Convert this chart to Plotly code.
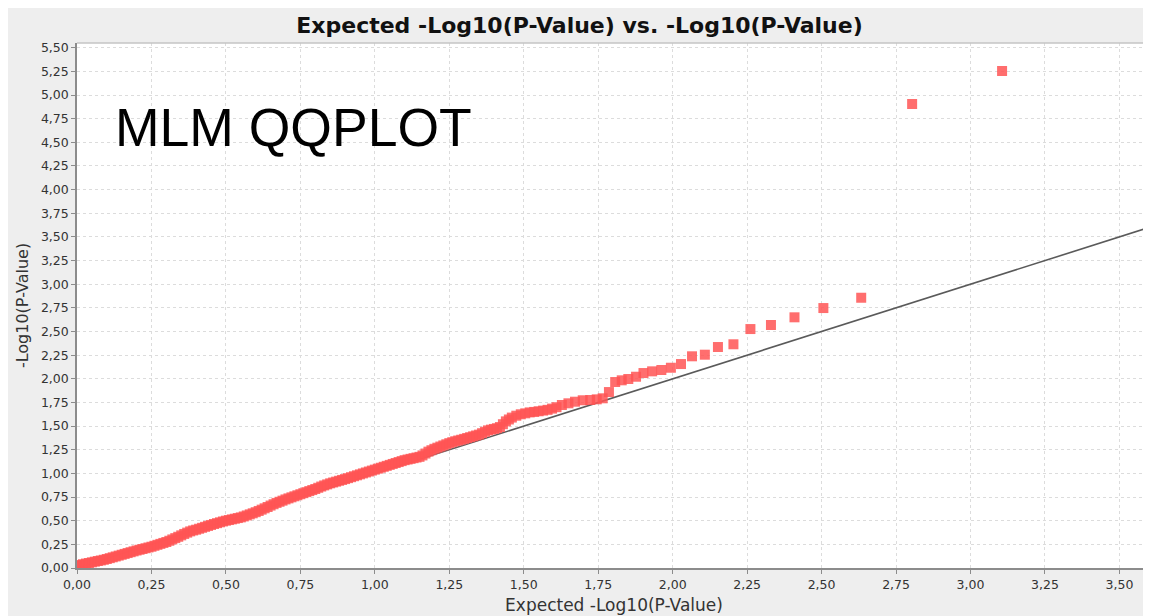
import plotly.graph_objects as go

# ---- data ----
# dense part of the curve (expected, observed)
dense_expected = [
    0.00, 0.01, 0.02, 0.03, 0.04, 0.05, 0.06, 0.07, 0.08, 0.09,
    0.10, 0.11, 0.12, 0.13, 0.14, 0.15, 0.16, 0.17, 0.18, 0.19,
    0.20, 0.21, 0.22, 0.23, 0.24, 0.25, 0.26, 0.27, 0.28, 0.29,
    0.30, 0.31, 0.32, 0.33, 0.34, 0.35, 0.36, 0.37, 0.38, 0.39,
    0.40, 0.41, 0.42, 0.43, 0.44, 0.45, 0.46, 0.47, 0.48, 0.49,
    0.50, 0.51, 0.52, 0.53, 0.54, 0.55, 0.56, 0.57, 0.58, 0.59,
    0.60, 0.61, 0.62, 0.63, 0.64, 0.65, 0.66, 0.67, 0.68, 0.69,
    0.70, 0.71, 0.72, 0.73, 0.74, 0.75, 0.76, 0.77, 0.78, 0.79,
    0.80, 0.81, 0.82, 0.83, 0.84, 0.85, 0.86, 0.87, 0.88, 0.89,
    0.90, 0.91, 0.92, 0.93, 0.94, 0.95, 0.96, 0.97, 0.98, 0.99,
    1.00, 1.01, 1.02, 1.03, 1.04, 1.05, 1.06, 1.07, 1.08, 1.09,
    1.10, 1.11, 1.12, 1.13, 1.14, 1.15, 1.16, 1.17, 1.18, 1.19,
    1.20, 1.21, 1.22, 1.23, 1.24, 1.25, 1.26, 1.27, 1.28, 1.29,
    1.30, 1.31, 1.32, 1.33, 1.34, 1.35, 1.36, 1.37, 1.38, 1.39,
    1.40, 1.41, 1.42, 1.43, 1.44, 1.45, 1.46, 1.475, 1.49, 1.505,
    1.52, 1.535, 1.55, 1.565, 1.58, 1.595, 1.61]
dense_observed = [
    0.025, 0.032, 0.040, 0.047, 0.053, 0.060, 0.067, 0.074, 0.080, 0.087,
    0.095, 0.104, 0.113, 0.122, 0.131, 0.140, 0.149, 0.158, 0.167, 0.176,
    0.185, 0.193, 0.201, 0.209, 0.217, 0.225, 0.235, 0.245, 0.255, 0.265,
    0.275, 0.288, 0.302, 0.316, 0.330, 0.345, 0.360, 0.374, 0.387, 0.397,
    0.405, 0.415, 0.425, 0.435, 0.445, 0.455, 0.465, 0.474, 0.483, 0.492,
    0.500, 0.507, 0.514, 0.521, 0.528, 0.535, 0.545, 0.556, 0.567, 0.578,
    0.590, 0.603, 0.617, 0.631, 0.645, 0.660, 0.674, 0.688, 0.700, 0.712,
    0.725, 0.736, 0.747, 0.758, 0.769, 0.780, 0.791, 0.802, 0.813, 0.824,
    0.835, 0.848, 0.861, 0.873, 0.884, 0.895, 0.904, 0.913, 0.922, 0.931,
    0.940, 0.950, 0.960, 0.970, 0.980, 0.990, 1.000, 1.010, 1.020, 1.030,
    1.040, 1.050, 1.060, 1.070, 1.080, 1.090, 1.100, 1.110, 1.120, 1.130,
    1.140, 1.147, 1.154, 1.161, 1.168, 1.175, 1.190, 1.210, 1.230, 1.245,
    1.260, 1.272, 1.284, 1.296, 1.308, 1.320, 1.330, 1.340, 1.348, 1.356,
    1.365, 1.374, 1.383, 1.392, 1.401, 1.410, 1.425, 1.440, 1.455, 1.463,
    1.470, 1.478, 1.490, 1.520, 1.550, 1.570, 1.590, 1.610, 1.625, 1.635,
    1.645, 1.650, 1.657, 1.664, 1.672, 1.685, 1.700]
# sparse upper tail, individual points
tail_expected = [1.628, 1.650, 1.672, 1.698, 1.723, 1.745, 1.765, 1.786, 1.807, 1.829, 1.851,
                 1.877, 1.902, 1.931, 1.962, 1.994, 2.028, 2.065, 2.108, 2.152, 2.204, 2.261,
                 2.330, 2.409, 2.506, 2.633, 2.804, 3.106]
tail_observed = [1.723, 1.741, 1.758, 1.773, 1.776, 1.783, 1.794, 1.860, 1.966, 1.984, 1.998,
                 2.022, 2.061, 2.079, 2.093, 2.117, 2.156, 2.238, 2.255, 2.336, 2.365, 2.526,
                 2.569, 2.650, 2.748, 2.857, 4.905, 5.254]

reference_line = [0.0, 3.606]   # y = x over the visible x range

x_ticks = [0.00, 0.25, 0.50, 0.75, 1.00, 1.25, 1.50, 1.75, 2.00, 2.25, 2.50, 2.75, 3.00, 3.25, 3.50]
x_tick_labels = ["0,00", "0,25", "0,50", "0,75", "1,00", "1,25", "1,50", "1,75", "2,00",
                 "2,25", "2,50", "2,75", "3,00", "3,25", "3,50"]
y_ticks = [0.00, 0.25, 0.50, 0.75, 1.00, 1.25, 1.50, 1.75, 2.00, 2.25, 2.50, 2.75, 3.00,
           3.25, 3.50, 3.75, 4.00, 4.25, 4.50, 4.75, 5.00, 5.25, 5.50]
y_tick_labels = ["0,00", "0,25", "0,50", "0,75", "1,00", "1,25", "1,50", "1,75", "2,00",
                 "2,25", "2,50", "2,75", "3,00", "3,25", "3,50", "3,75", "4,00", "4,25",
                 "4,50", "4,75", "5,00", "5,25", "5,50"]

title_text = "Expected -Log10(P-Value) vs. -Log10(P-Value)"
x_title = "Expected -Log10(P-Value)"
y_title = "-Log10(P-Value)"
overlay_text = "MLM QQPLOT"

# ---- figure ----
marker_style = dict(symbol="square", size=10, color="rgba(255,85,85,0.85)", line=dict(width=0))

fig = go.Figure()
fig.add_trace(go.Scatter(
    x=reference_line, y=reference_line, mode="lines",
    line=dict(color="#5a5a5a", width=1.6), hoverinfo="skip", showlegend=False))
fig.add_trace(go.Scatter(x=dense_expected, y=dense_observed, mode="markers",
                         marker=marker_style, showlegend=False))
fig.add_trace(go.Scatter(x=tail_expected, y=tail_observed, mode="markers",
                         marker=marker_style, showlegend=False))

# page has an 8px body margin; figure sits at (8, 8)
W, H = 1143, 608
L, R, T, B = 69, 0, 35, 48
pw, ph = W - L - R, H - T - B

def px(xp):
    return (xp - L) / pw

def py(yp):
    return (H - B - yp) / ph

axis_font = dict(family="DejaVu Sans", size=12.5, color="#333333")
fig.update_layout(
    width=W, height=H,
    margin=dict(l=L, r=R, t=T, b=B, autoexpand=False),
    paper_bgcolor="#EEEEEE", plot_bgcolor="white",
    title=dict(text=title_text, x=0.5, xanchor="center", y=1 - 17 / H, yanchor="middle",
               font=dict(family="DejaVu Sans", size=22, color="#111111", weight="bold")),
    xaxis=dict(range=[0, 3.606], tickmode="array", tickvals=x_ticks, ticktext=x_tick_labels,
               showline=True, linecolor="#8c8c8c", linewidth=1.5, mirror=False,
               ticks="outside", ticklen=4, tickcolor="#8c8c8c",
               showgrid=True, gridcolor="#dcdcdc", griddash="3px,3px", gridwidth=1,
               zeroline=False, tickfont=axis_font,
               title=dict(text=x_title, font=dict(family="DejaVu Sans", size=17, color="#333333"),
                          standoff=8)),
    yaxis=dict(range=[0, 5.55], tickmode="array", tickvals=y_ticks, ticktext=y_tick_labels,
               showline=True, linecolor="#8c8c8c", linewidth=1.5,
               ticks="outside", ticklen=4, tickcolor="#8c8c8c",
               showgrid=True, gridcolor="#dcdcdc", griddash="3px,3px", gridwidth=1,
               zeroline=False, tickfont=axis_font,
               title=dict(text=y_title, font=dict(family="DejaVu Sans", size=16, color="#333333"),
                          standoff=8)),
    shapes=[
        dict(type="line", xref="paper", yref="paper", x0=0, x1=1, y0=1, y1=1,
             line=dict(color="#c4c4c4", width=1.5), layer="above"),
    ],
    annotations=[
        dict(text=overlay_text, xref="paper", yref="paper", x=px(105), y=py(119),
             xanchor="left", yanchor="middle", showarrow=False,
             font=dict(family="Liberation Sans", size=53.5, color="black")),
    ],
)

fig.write_html(
    "out.html",
    post_script="document.documentElement.style.overflow='hidden';"
                "document.body.style.overflow='hidden';")
